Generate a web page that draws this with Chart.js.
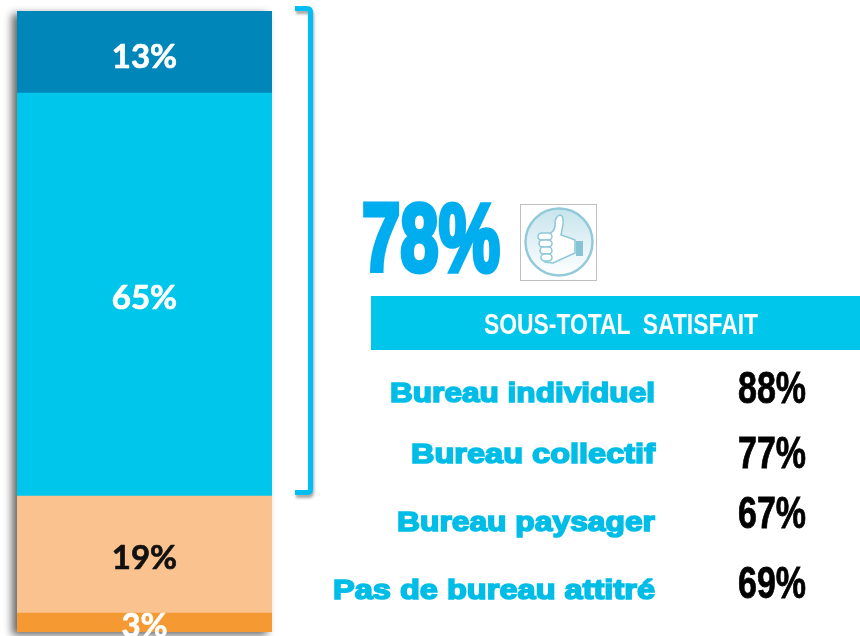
<!DOCTYPE html>
<html><head><meta charset="utf-8">
<script src="https://cdn.jsdelivr.net/npm/chart.js@4"></script>
<style>
html,body{margin:0;padding:0;background:#fff;width:860px;height:636px;overflow:hidden}
#wrap{position:relative;width:860px;height:636px;overflow:hidden}
canvas{position:absolute;left:0;top:0}
.t{position:absolute;white-space:pre;transform-origin:0 0;line-height:1}
</style></head><body>
<div id="wrap"><canvas id="c" width="860" height="636"></canvas></div>
<script>
const categories = ['Total'];
const seriesNames = ['Pas du tout satisfait','Plutôt pas satisfait','Plutôt satisfait','Très satisfait'];
const seriesValues = [3.06,18.84,64.9,13.2];
const seriesColors = ['#F59A33','#FAC28F','#00C6EC','#0086B8'];
const labelColors = ['#FFFFFF','#111111','#FFFFFF','#FFFFFF'];
const subTotal = '78%';
const subTitle = 'SOUS-TOTAL  SATISFAIT';
const rowNames = ['Bureau individuel','Bureau collectif','Bureau paysager','Pas de bureau attitré'];
const rowValues = ['88%','77%','67%','69%'];

const decor = {
  id:'decor',
  beforeDatasetsDraw(chart){
    const {ctx,chartArea:a}=chart;
    ctx.save();
    ctx.shadowColor='rgba(0,0,0,0.6)';ctx.shadowBlur=8;ctx.shadowOffsetX=-5;ctx.shadowOffsetY=3;
    ctx.fillStyle='#999';ctx.fillRect(a.left,a.top,a.right-a.left,a.bottom-a.top);
    ctx.restore();
  },
  afterDatasetsDraw(chart){
    const {ctx}=chart;
    ctx.save();
    ctx.textAlign='center';ctx.textBaseline='middle';
    ctx.font='700 33px Lato, Carlito, sans-serif';
    ctx.lineWidth=0.7;ctx.lineJoin='round';
    chart.data.datasets.forEach((d,i)=>{
      const el=chart.getDatasetMeta(i).data[0];
      const mid=(el.y+el.base)/2;
      const off = i===0 ? 3.5 : (i===3 ? 5 : 4);
      const s=Math.round(d.data[0])+'%';
      ctx.fillStyle=labelColors[i];ctx.strokeStyle=labelColors[i];
      ctx.fillText(s,el.x,mid+off);ctx.strokeText(s,el.x,mid+off);
    });
    ctx.restore();
    // bracket
    ctx.save();
    ctx.shadowColor='rgba(0,0,0,0.35)';ctx.shadowBlur=3;ctx.shadowOffsetX=1;ctx.shadowOffsetY=3;
    ctx.strokeStyle='#00BDF2';ctx.lineWidth=5;ctx.lineJoin='round';
    ctx.beginPath();ctx.moveTo(295,8.5);ctx.lineTo(307,8.5);ctx.quadraticCurveTo(310.5,8.5,310.5,12);
    ctx.lineTo(310.5,489);ctx.quadraticCurveTo(310.5,492.5,307,492.5);ctx.lineTo(295,492.5);ctx.stroke();
    ctx.restore();
    // sub-total band
    ctx.fillStyle='#00C6EC';ctx.fillRect(371,296,489,54);
    // thumb icon
    ctx.save();
    ctx.strokeStyle='#BFBFBF';ctx.lineWidth=1;ctx.strokeRect(520.5,204.5,76,76);
    ctx.filter='blur(0.7px)';
    const g=ctx.createLinearGradient(0,208,0,276);g.addColorStop(0,'#C6E4EC');g.addColorStop(1,'#FFFFFF');
    ctx.fillStyle=g;ctx.beginPath();ctx.arc(559,242,33.5,0,Math.PI*2);ctx.fill();
    ctx.strokeStyle='#93CAD9';ctx.lineWidth=2.5;ctx.stroke();
    ctx.strokeStyle='#8CC8D8';ctx.lineWidth=1.5;ctx.fillStyle='#fff';
    ctx.beginPath();ctx.moveTo(545,236);ctx.lineTo(551,233);ctx.quadraticCurveTo(556,229,555,222);ctx.quadraticCurveTo(556,216,560,215);ctx.quadraticCurveTo(564,216,563,224);
    ctx.quadraticCurveTo(562,230,561,235);ctx.lineTo(570,238);ctx.lineTo(575,240);ctx.lineTo(575,253);ctx.lineTo(553,263);ctx.lineTo(545,262);ctx.closePath();ctx.fill();ctx.stroke();
    [233,240,247,254].forEach((y,i)=>{ctx.beginPath();ctx.roundRect(538+i,y,14-i,7,3.5);ctx.fill();ctx.stroke();});
    ctx.fillStyle='#86C3D5';ctx.fillRect(576,241,7,15);
    ctx.restore();
  }
};

new Chart(document.getElementById('c'),{
  type:'bar',
  data:{labels:categories,datasets:seriesValues.map((v,i)=>({label:seriesNames[i],data:[v],backgroundColor:seriesColors[i],borderWidth:0,barPercentage:1,categoryPercentage:1}))},
  options:{
    responsive:false,animation:false,
    layout:{padding:{left:17,top:11,right:588,bottom:4}},
    plugins:{legend:{display:false},tooltip:{enabled:false},title:{display:false}},
    scales:{
      x:{stacked:true,display:false},
      y:{stacked:true,display:false,min:0,max:100}
    }
  },
  plugins:[decor]
});

const wrap=document.getElementById('wrap');
// place text so that it spans exactly left..right, horizontally squeezed or widened
function addText(txt,left,right,top,css){
  const e=document.createElement('div');e.className='t';e.textContent=txt;
  e.style.cssText+=css;wrap.appendChild(e);
  const w=e.getBoundingClientRect().width;
  e.style.left=left+'px';e.style.top=top+'px';e.style.transform='scaleX('+((right-left)/w)+')';
}
const SANS="'Liberation Sans',Arial,sans-serif";
addText(subTotal,362,500,182,"font:700 97px "+SANS+";color:#00AEEF;-webkit-text-stroke:5px #00AEEF;");
addText(subTitle,484,758,308,"font:700 29px "+SANS+";color:#fff;");
const rowLeft=[390,411,397,333], rowY=[377,438,506,574], valY=[363,428,488,558];
rowNames.forEach((n,i)=>{
  addText(n,rowLeft[i],655,rowY[i],"font:700 28px "+SANS+";color:#00BDE8;-webkit-text-stroke:1.6px #00BDE8;");
  addText(rowValues[i],738,806,valY[i],"font:700 44px "+SANS+";color:#000;-webkit-text-stroke:0.8px #000;");
});
</script>
</body></html>
